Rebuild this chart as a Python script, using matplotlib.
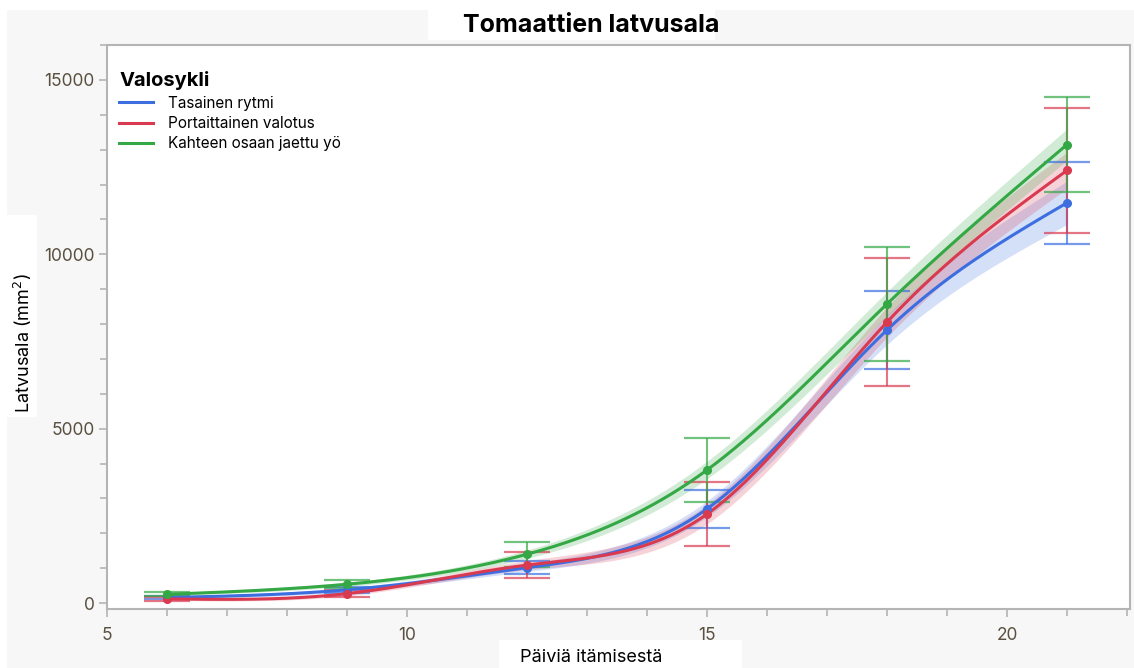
import numpy as np
import matplotlib.pyplot as plt
from matplotlib.patches import Rectangle
from matplotlib.ticker import MultipleLocator

# measurement days and group means / error half-widths (mm^2)
days = [6, 9, 12, 15, 18, 21]
groups = ["Tasainen rytmi", "Portaittainen valotus", "Kahteen osaan jaettu yö"]
colors = ["#3d6ee0", "#d93a50", "#34a845"]

blue_mean = [160, 380, 1015, 2700, 7830, 11475]
blue_err = [50, 90, 185, 545, 1120, 1175]
red_mean = [120, 270, 1090, 2550, 8055, 12405]
red_err = [50, 100, 370, 920, 1835, 1795]
green_mean = [250, 540, 1400, 3815, 8575, 13145]
green_err = [60, 110, 360, 915, 1635, 1355]

# half-width of the confidence band around each smoother
blue_band = [40, 60, 110, 230, 420, 620]
red_band = [40, 60, 130, 280, 430, 520]
green_band = [40, 60, 120, 250, 350, 450]

means = [blue_mean, red_mean, green_mean]
errs = [blue_err, red_err, green_err]
bands = [blue_band, red_band, green_band]


def smooth(xd, yd, grid, lam=3.0):
    # penalised (second difference) smoother evaluated on a fine grid
    n = len(grid)
    idx = np.searchsorted(grid, xd)
    wts = np.zeros(n)
    obs = np.zeros(n)
    wts[idx] = 1.0
    obs[idx] = yd
    D = np.diff(np.eye(n), 2, axis=0)
    A = np.diag(wts) + lam * D.T @ D
    return np.linalg.solve(A, wts * obs)


plt.rcParams['font.family'] = ['Inter', 'DejaVu Sans']

W, H = 1134, 668
fig = plt.figure(figsize=(W / 100, H / 100), dpi=100, facecolor='white')

# grey panel with white label boxes
fig.patches.append(Rectangle((7 / W, 0), 1, 1 - 10 / H, transform=fig.transFigure,
                             facecolor='#f7f7f7', edgecolor='none', zorder=-10))
for x0, y0, x1, y1 in [(428, 10, 715, 40), (7, 215, 37, 417), (499, 640, 742, 668)]:
    fig.patches.append(Rectangle((x0 / W, 1 - y1 / H), (x1 - x0) / W, (y1 - y0) / H,
                                 transform=fig.transFigure, facecolor='white',
                                 edgecolor='none', zorder=-9))

ax = fig.add_axes([107 / W, 1 - 609 / H, (1130 - 107) / W, (609 - 45) / H])
ax.set_facecolor('white')

x = np.array(days, dtype=float)
xs = np.linspace(6, 21, 301)
for m, b, c, name in zip(means, bands, colors, groups):
    fit = smooth(x, np.array(m, dtype=float), xs, lam=10.0)
    bw = smooth(x, np.array(b, dtype=float), xs, lam=50.0)
    ax.fill_between(xs, fit - bw, fit + bw, color=c, alpha=0.22, lw=0, zorder=2)
    ax.plot(xs, fit, color=c, lw=2.2, zorder=4, label=name)

for m, e, c in zip(means, errs, colors):
    m = np.array(m, dtype=float)
    e = np.array(e, dtype=float)
    ax.vlines(x, m - e, m + e, color=c, lw=1.5, alpha=0.7, zorder=3)
    ax.hlines(m - e, x - 0.38, x + 0.38, color=c, lw=1.6, alpha=0.7, zorder=3)
    ax.hlines(m + e, x - 0.38, x + 0.38, color=c, lw=1.6, alpha=0.7, zorder=3)
    ax.plot(x, m, 'o', color=c, ms=5.5, zorder=5)

ax.set_xlim(5, 22.05)
ax.set_ylim(-170, 16000)
ax.set_xticks([5, 10, 15, 20])
ax.set_yticks([0, 5000, 10000, 15000])
ax.xaxis.set_minor_locator(MultipleLocator(1))
ax.yaxis.set_minor_locator(MultipleLocator(1000))
for s in ax.spines.values():
    s.set_color('#b4b4b4')
    s.set_linewidth(1.5)
ax.tick_params(which='major', length=6, width=1.2, color='#b4b4b4',
               labelsize=12.5, labelcolor='#5a5040', pad=3)
ax.tick_params(axis='x', which='major', pad=7)
ax.tick_params(which='minor', length=5, width=1.2, color='#b4b4b4')

leg = ax.legend(loc='upper left', title='Valosykli', frameon=False, fontsize=11,
                title_fontproperties={'weight': 'bold', 'size': 14.5},
                handlelength=2.2, handletextpad=1.0, labelspacing=0.35,
                borderaxespad=0.4, bbox_to_anchor=(0.0, 0.975))
leg._legend_box.align = 'left'

fig.text(591 / W, 1 - 25 / H, 'Tomaattien latvusala', ha='center', va='center',
         fontsize=18, fontweight='bold')
fig.text(591 / W, 1 - 657 / H, 'Päiviä itämisestä', ha='center', va='center', fontsize=13)
fig.text(23 / W, 1 - 343 / H, 'Latvusala (mm$^2$)', ha='center', va='center',
         rotation=90, fontsize=13)

fig.savefig('out.png', dpi=100, facecolor='white')
